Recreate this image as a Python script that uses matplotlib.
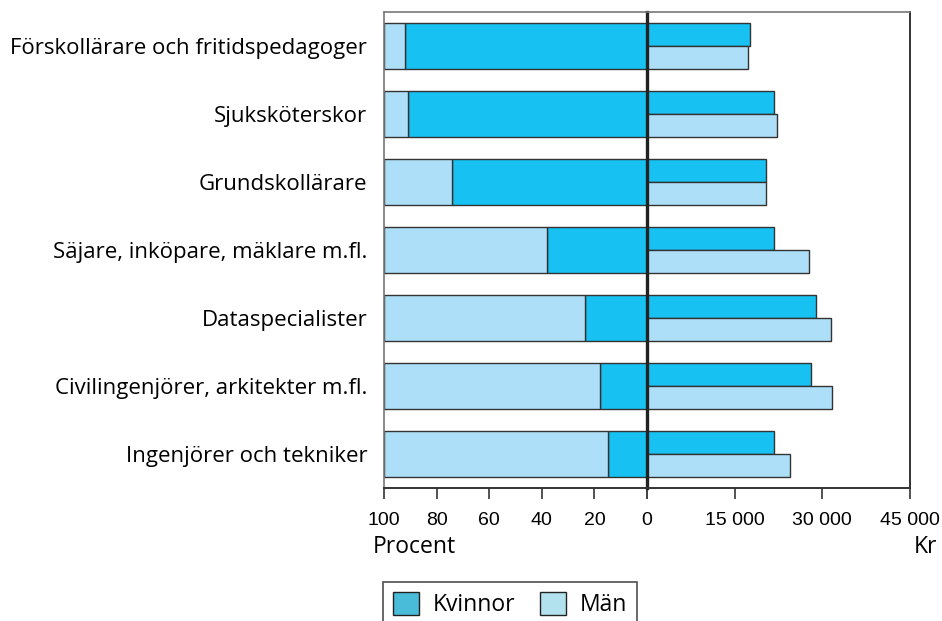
import numpy as np
import matplotlib
matplotlib.use("Agg")
import matplotlib.pyplot as plt
from matplotlib.patches import Patch

# ---------- data ----------
categories = [
    "Förskollärare och fritidspedagoger",
    "Sjuksköterskor",
    "Grundskollärare",
    "Säjare, inköpare, mäklare m.fl.",
    "Dataspecialister",
    "Civilingenjörer, arkitekter m.fl.",
    "Ingenjörer och tekniker",
]
women_pct = [92, 91, 74, 38, 23.5, 18, 15]
women_salary = [17700, 21700, 20400, 21800, 29000, 28000, 21700]
men_salary = [17300, 22300, 20300, 27700, 31500, 31700, 24500]

pct_ticks = [100, 80, 60, 40, 20, 0]
pct_labels = ["100", "80", "60", "40", "20", ""]   # the shared 0 is drawn by the right panel
kr_ticks = [0, 15000, 30000, 45000]
kr_labels = ["0", "15 000", "30 000", "45 000"]

c_women = "#17c1f2"
c_men = "#addff9"
c_edge = "#333333"

label_font = ["Open Sans", "DejaVu Sans"]
tick_font = ["Liberation Sans Narrow", "Liberation Sans", "DejaVu Sans"]

fig = plt.figure(figsize=(9.42, 6.21), dpi=100)
x0, xm, x1 = 384 / 942, 647 / 942, 910 / 942
y0, y1 = 1 - 488 / 621, 1 - 12 / 621
axl = fig.add_axes([x0, y0, xm - x0, y1 - y0])
axr = fig.add_axes([xm, y0, x1 - xm, y1 - y0])

y = np.arange(len(categories))
h = 0.67

# ---------- left: share of women / men ----------
women = np.array(women_pct)
axl.barh(y, women, height=h, color=c_women, edgecolor=c_edge, linewidth=1.0)
axl.barh(y, 100 - women, left=women, height=h, color=c_men, edgecolor=c_edge, linewidth=1.0)
axl.set_xlim(100, 0)
axl.set_ylim(len(categories) - 0.5, -0.5)
axl.set_xticks(pct_ticks)
axl.set_xticklabels(pct_labels, family=tick_font, fontsize=14)
axl.set_yticks(y)
axl.set_yticklabels(categories, family=label_font, fontsize=16)
axl.tick_params(axis="y", length=0, pad=12)
axl.tick_params(axis="x", direction="out", length=8, width=1.3, color="#444444", pad=9)
for s in ["top", "left"]:
    axl.spines[s].set_color("#777777")
    axl.spines[s].set_linewidth(1.2)
axl.spines["bottom"].set_color("#333333")
axl.spines["bottom"].set_linewidth(1.4)
axl.spines["right"].set_visible(False)

# ---------- right: salaries ----------
hb = h / 2
axr.barh(y - hb / 2, women_salary, height=hb, color=c_women, edgecolor=c_edge, linewidth=1.0)
axr.barh(y + hb / 2, men_salary, height=hb, color=c_men, edgecolor=c_edge, linewidth=1.0)
axr.set_xlim(0, 45000)
axr.set_ylim(len(categories) - 0.5, -0.5)
axr.set_yticks([])
axr.set_xticks(kr_ticks)
axr.set_xticklabels(kr_labels, family=tick_font, fontsize=14)
axr.tick_params(axis="x", direction="out", length=8, width=1.3, color="#444444", pad=9)
axr.spines["left"].set_color("#222222")
axr.spines["left"].set_linewidth(2.4)
axr.spines["top"].set_color("#777777")
axr.spines["top"].set_linewidth(1.2)
axr.spines["right"].set_color("#333333")
axr.spines["right"].set_linewidth(1.4)
axr.spines["bottom"].set_color("#333333")
axr.spines["bottom"].set_linewidth(1.4)

# axis unit labels
fig.text(373 / 942, 1 - 553 / 621, "Procent", family=label_font, fontsize=16.5,
         ha="left", va="baseline")
fig.text(937 / 942, 1 - 553 / 621, "Kr", family=label_font, fontsize=16.5,
         ha="right", va="baseline")

# legend
handles = [Patch(facecolor="#48bcd8", edgecolor="#222222", label="Kvinnor"),
           Patch(facecolor="#b3e2ef", edgecolor="#222222", label="Män")]
leg = fig.legend(handles=handles, loc="upper left", bbox_to_anchor=(383 / 942, 1 - 582 / 621),
                 ncol=2, frameon=True, fancybox=False, prop={"family": label_font, "size": 16.5},
                 handlelength=1.13, handleheight=1.13, handletextpad=0.6, columnspacing=1.05,
                 borderpad=0.45, borderaxespad=0, edgecolor="#222222")
leg.get_frame().set_linewidth(1.2)

fig.savefig("out.png", dpi=100)
